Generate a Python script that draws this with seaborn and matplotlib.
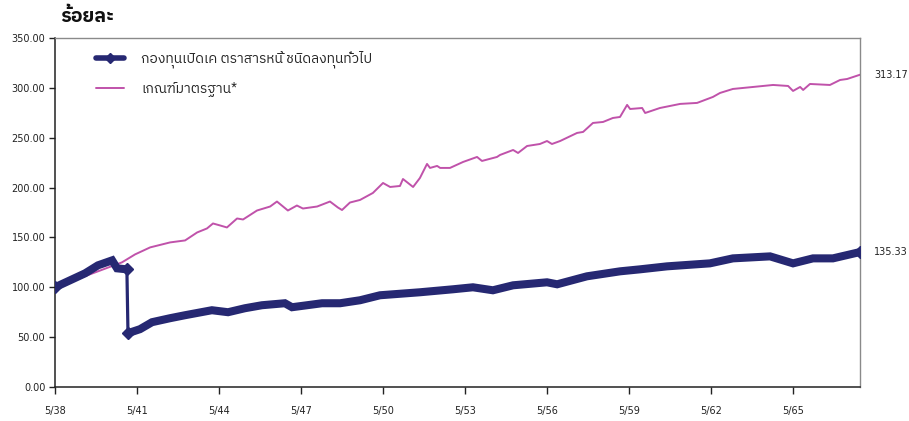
import numpy as np
import pandas as pd
import matplotlib
matplotlib.use("Agg")
import matplotlib.pyplot as plt
import seaborn as sns
from matplotlib import font_manager, ft2font
from matplotlib.lines import Line2D

# ---------------- data (years since 5/38) ----------------
bench_t = [0.00, 1.28, 2.45, 2.93, 3.48, 4.21, 4.76, 5.20, 5.56, 5.78, 6.04, 6.29, 6.66, 6.88,
           7.39, 7.87, 8.12, 8.52, 8.85, 9.07, 9.59, 10.06, 10.35, 10.50, 10.79, 11.16, 11.63,
           12.00, 12.26, 12.62, 12.73, 13.10, 13.35, 13.61, 13.72, 13.98, 14.09, 14.45, 14.93,
           15.44, 15.62, 16.17, 16.28, 16.76, 16.94, 17.27, 17.74, 18.00, 18.18, 18.48, 19.10,
           19.32, 19.68, 20.05, 20.41, 20.67, 20.93, 21.04, 21.48, 21.59, 22.13, 22.87, 23.49,
           24.07, 24.33, 24.80, 25.54, 26.27, 26.82, 27.00, 27.26, 27.37, 27.62, 28.35, 28.72,
           28.98, 29.45]
bench_v = [100, 113, 125, 133, 140, 145, 147, 155, 159, 164, 162, 160, 169, 168,
           177, 181, 186, 177, 182, 179, 181, 186, 180, 177.5, 185, 187.6, 194.6,
           204.6, 200.6, 201.6, 208.6, 200.6, 209.6, 223.7, 219.7, 221.7, 219.7, 219.7, 225.7,
           230.7, 226.7, 230.7, 232.7, 237.7, 234.7, 241.7, 243.7, 246.7, 243.7, 246.7, 254.8,
           255.8, 264.8, 265.8, 269.8, 270.8, 282.9, 278.8, 279.8, 274.8, 279.8, 283.9, 284.9,
           290.9, 294.9, 298.9, 300.9, 302.9, 301.9, 296.9, 300.9, 297.9, 303.9, 302.9, 307.9,
           308.9, 313.17]

fund_t = [0.00, 0.55, 1.10, 1.57, 2.09, 2.27, 2.63, 2.67, 3.11, 3.55, 4.21, 4.76, 5.74, 6.33,
          6.95, 7.57, 8.41, 8.67, 9.77, 10.43, 11.16, 11.89, 13.35, 14.56, 15.29, 16.02, 16.76,
          18.00, 18.37, 19.46, 20.67, 21.40, 22.39, 23.96, 24.80, 26.16, 27.00, 27.73, 28.46, 29.45]
fund_v = [100, 107, 114, 122, 127, 119, 118, 54, 58, 65, 69, 72, 77, 75,
          79, 82, 84, 80, 84, 84, 87, 92, 95, 98, 100, 97, 102,
          105, 103, 111, 116, 118, 121, 124, 129, 131, 124, 129, 129, 135.33]

tick_pos = [0, 3, 6, 9, 12, 15, 18, 21, 24, 27]
tick_labels = ["5/38", "5/41", "5/44", "5/47", "5/50", "5/53", "5/56", "5/59", "5/62", "5/65"]
y_ticks = [0, 50, 100, 150, 200, 250, 300, 350]

fund_label = "กองทุนเปิดเค ตราสารหนี้ ชนิดลงทุนทั่วไป"
bench_label = "เกณฑ์มาตรฐาน*"
y_title = "ร้อยละ"

FUND_C = "#262872"
BENCH_C = "#C052AA"

# ---------------- fonts ----------------
sns.set_style("white")
thai_font = None
cands = []
for f in font_manager.fontManager.ttflist:
    try:
        cm = ft2font.FT2Font(f.fname).get_charmap()
        if 0x0E23 in cm and 0x0E49 in cm:
            cands.append(f.name)
    except Exception:
        pass
for c in cands:
    if "Thai" in c:
        thai_font = c
        break
if thai_font is None and cands:
    thai_font = cands[0]
fam = [thai_font, "DejaVu Sans"] if thai_font else ["DejaVu Sans"]
plt.rcParams["font.family"] = ["DejaVu Sans"]

# ---------------- figure ----------------
fig = plt.figure(figsize=(9.09, 4.21), dpi=100)
ax = fig.add_axes([55 / 909, 1 - 387 / 421, (860 - 55) / 909, (387 - 38) / 421])

bench_df = pd.DataFrame({"t": bench_t, "v": bench_v})
fund_df = pd.DataFrame({"t": fund_t, "v": fund_v})

sns.lineplot(data=bench_df, x="t", y="v", ax=ax, color=BENCH_C, lw=1.4, zorder=3)

# fund: thin connecting line + thick band on continuous segments
sns.lineplot(data=fund_df, x="t", y="v", ax=ax, color=FUND_C, lw=2.3, zorder=4)
jump = np.where(np.abs(np.diff(fund_df["v"].values)) > 30)[0]
splits = [0] + [j + 1 for j in jump] + [len(fund_df)]
for a, b in zip(splits[:-1], splits[1:]):
    seg = fund_df.iloc[a:b]
    sns.lineplot(data=seg, x="t", y="v", ax=ax, color=FUND_C, lw=5.8,
                 solid_joinstyle="miter", zorder=4)
mark_idx = [0, len(fund_df) - 1] + [j for j in jump] + [j + 1 for j in jump]
ax.plot(fund_df["t"].values[mark_idx], fund_df["v"].values[mark_idx], ls="none",
        marker="D", ms=6.5, color=FUND_C, zorder=5)

ax.set_xlim(0, 29.45)
ax.set_ylim(0, 350)
ax.set_xticks(tick_pos)
ax.set_xticklabels(tick_labels)
ax.set_yticks(y_ticks)
ax.set_yticklabels([f"{v:.2f}" for v in y_ticks])
ax.set_xlabel("")
ax.set_ylabel("")
ax.tick_params(axis="x", direction="out", length=5, width=1, color="#222222",
               labelsize=7, labelcolor="#222222", pad=9, bottom=True)
ax.tick_params(axis="y", direction="out", length=4, width=1, color="#222222",
               labelsize=7, labelcolor="#222222", pad=3, left=True)

for s in ["left", "bottom"]:
    ax.spines[s].set_color("#222222")
    ax.spines[s].set_linewidth(1.1)
for s in ["top", "right"]:
    ax.spines[s].set_color("#8a8a8a")
    ax.spines[s].set_linewidth(1.0)

# end value labels
ax.annotate(f"{bench_v[-1]:.2f}", xy=(bench_t[-1], bench_v[-1]), xytext=(10, 0),
            textcoords="offset points", va="center", ha="left", fontsize=7, color="#222222",
            annotation_clip=False)
ax.annotate(f"{fund_v[-1]:.2f}", xy=(fund_t[-1], fund_v[-1]), xytext=(10, 0),
            textcoords="offset points", va="center", ha="left", fontsize=7, color="#222222",
            annotation_clip=False)

# legend
handles = [Line2D([0], [0], color=FUND_C, lw=4, marker="D", ms=5),
           Line2D([0], [0], color=BENCH_C, lw=1.4)]
leg = ax.legend(handles, [fund_label, bench_label], loc="upper left",
                bbox_to_anchor=(0.036, 0.999), frameon=False, handlelength=2.0,
                handletextpad=1.2, labelspacing=0.95,
                prop=font_manager.FontProperties(family=fam, size=10))

fig.text(60 / 909, 1 - 17 / 421, y_title, fontsize=14, fontweight="bold",
         family=fam, va="center", ha="left", color="#111111")

fig.savefig("out.png", dpi=100)
